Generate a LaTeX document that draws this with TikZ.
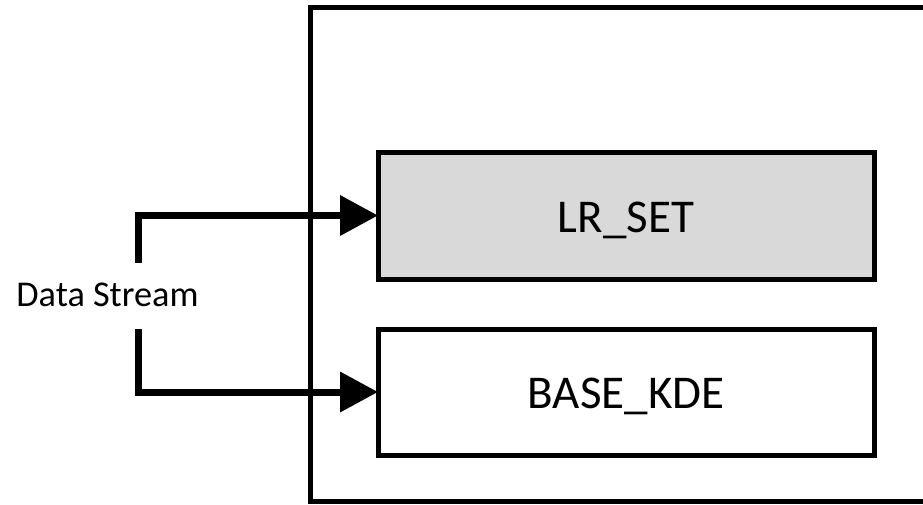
\documentclass[tikz,border=0pt]{standalone}
\usepackage{fontspec}
\setmainfont{Carlito}
\usetikzlibrary{arrows.meta}

\definecolor{unitgray}{HTML}{D9D9D9}

\tikzset{
  unit/.style={draw=black, line width=5pt, inner sep=0pt, outer sep=0pt,
               minimum width=496pt},
  unitlabel/.style={anchor=base, inner sep=0pt, font=\fontsize{47}{56}\selectfont},
  frame/.style={draw=black, line width=5pt, inner sep=0pt, outer sep=0pt},
  flow/.style={line width=7pt, line join=miter,
               -{Triangle[length=38pt,width=39pt]}},
  tag/.style={anchor=base, inner sep=0pt, font=\fontsize{36.3}{43}\selectfont}
}

\begin{document}
\begin{tikzpicture}[x=1pt, y=-1pt]
  \useasboundingbox (0,0) rectangle (923,504);
  \clip (0,0) rectangle (923,504);

  % enclosing block (runs off the right edge)
  \node[frame, minimum width=630pt, minimum height=494pt] (outer) at (625,254.5) {};

  % the two units inside the block
  \node[unit, fill=unitgray, minimum height=127pt] (lr) at (626,215.5) {};
  \node[unit, minimum height=126pt] (kde) at (626,392) {};
  \node[unitlabel] (lrtxt) at (626,232) {LR\_SET};
  \node[unitlabel] (kdetxt) at (626,408) {BASE\_KDE};

  % input label and its two feeds
  \node[tag] (ds) at (107.5,306.5) {Data Stream};
  \coordinate (up) at (138,263);
  \coordinate (down) at (138,329);
  \draw[flow] (up) |- (lr.west);
  \draw[flow] (down) |- (kde.west);
\end{tikzpicture}
\end{document}
